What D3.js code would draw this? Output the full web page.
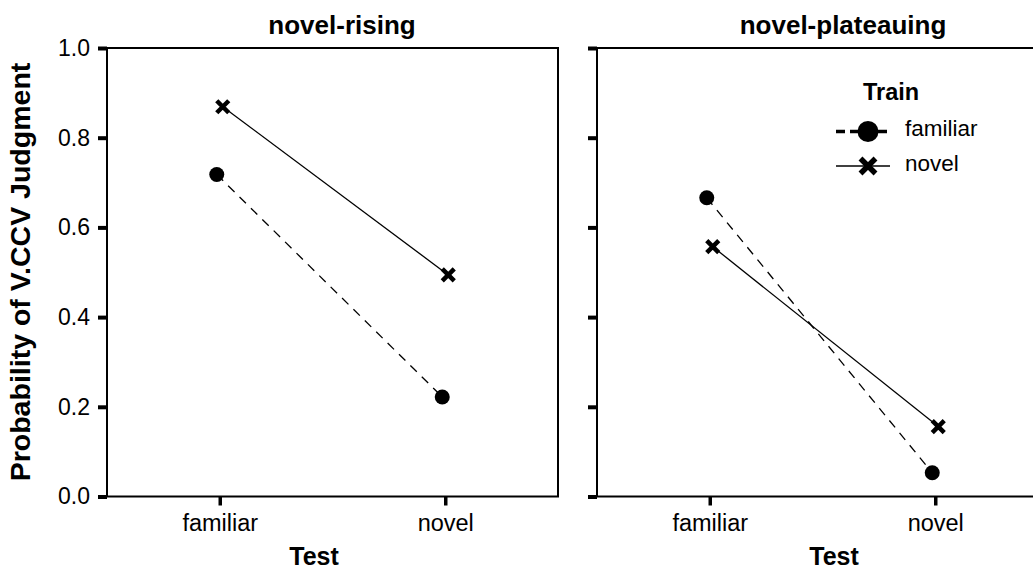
<!DOCTYPE html>
<html>
<head>
<meta charset="utf-8">
<script src="https://cdn.jsdelivr.net/npm/d3@7"></script>
<style>
  html, body { margin: 0; padding: 0; background: #fff; }
  svg { display: block; font-family: "Liberation Sans", Arial, Helvetica, sans-serif; }
</style>
</head>
<body>
<svg id="chart" width="1033" height="571"></svg>
<script>
// ---- data ----
const panels = ["novel-rising", "novel-plateauing"];
const testCategories = ["familiar", "novel"];
const trainGroups = ["familiar", "novel"];
const yTicks = [0.0, 0.2, 0.4, 0.6, 0.8, 1.0];
// values per panel: [familiar test, novel test]
const risingFamiliarTrain = [0.718, 0.222];
const risingNovelTrain = [0.869, 0.494];
const plateauFamiliarTrain = [0.666, 0.053];
const plateauNovelTrain = [0.557, 0.156];

const panelData = [
  { title: panels[0], series: [
    { train: trainGroups[0], values: risingFamiliarTrain },
    { train: trainGroups[1], values: risingNovelTrain } ] },
  { title: panels[1], series: [
    { train: trainGroups[0], values: plateauFamiliarTrain },
    { train: trainGroups[1], values: plateauNovelTrain } ] }
];

// ---- layout ----
const svg = d3.select("#chart");
const plotTop = 48, plotBottom = 496.5, panelW = 451;
const panelX = [107, 597];
const titleCx = [342, 843];
const testCx = [314, 834];
const dodge = { familiar: -3, novel: 3 };

const y = d3.scaleLinear().domain([0, 1]).range([plotBottom, plotTop]);

panelData.forEach((p, i) => {
  const x0 = panelX[i];
  const x = d3.scalePoint().domain(testCategories).range([x0, x0 + panelW]).padding(0.5);
  const g = svg.append("g");

  // frame
  g.append("rect").attr("x", x0).attr("y", plotTop).attr("width", panelW).attr("height", plotBottom - plotTop)
    .attr("fill", "none").attr("stroke", "#000").attr("stroke-width", 2);

  // y axis ticks
  const yAxis = d3.axisLeft(y).tickValues(yTicks).tickSize(9).tickPadding(8)
    .tickFormat(i === 0 ? d3.format(".1f") : () => "");
  const ya = g.append("g").attr("transform", `translate(${x0},0)`).call(yAxis);
  ya.select(".domain").remove();
  ya.selectAll(".tick line").attr("stroke-width", 4);
  ya.selectAll(".tick text").attr("font-size", 23).attr("fill", "#000")
    .attr("font-family", "Liberation Sans, Arial, sans-serif");

  // x axis ticks
  const xAxis = d3.axisBottom(x).tickSize(9).tickPadding(9);
  const xa = g.append("g").attr("transform", `translate(0,${plotBottom})`).call(xAxis);
  xa.select(".domain").remove();
  xa.selectAll(".tick line").attr("stroke-width", 3.5);
  xa.selectAll(".tick text").attr("font-size", 23.5).attr("fill", "#000")
    .attr("font-family", "Liberation Sans, Arial, sans-serif");

  // title
  g.append("text").attr("x", titleCx[i]).attr("y", 34).attr("text-anchor", "middle")
    .attr("font-size", 26).attr("font-weight", "bold").text(p.title);

  // x label
  g.append("text").attr("x", testCx[i]).attr("y", 565).attr("text-anchor", "middle")
    .attr("font-size", 25).attr("font-weight", "bold").text("Test");

  // series
  p.series.forEach(s => {
    const pts = testCategories.map((c, k) => [x(c) + dodge[s.train], y(s.values[k])]);
    g.append("path").attr("d", d3.line()(pts)).attr("fill", "none").attr("stroke", "#000")
      .attr("stroke-width", 1.3)
      .attr("stroke-dasharray", s.train === "familiar" ? "9,7" : null);
    pts.forEach(pt => {
      if (s.train === "familiar") {
        g.append("circle").attr("cx", pt[0]).attr("cy", pt[1]).attr("r", 7.5).attr("fill", "#000");
      } else {
        const h = 6;
        g.append("path")
          .attr("d", `M${pt[0]-h},${pt[1]-h}L${pt[0]+h},${pt[1]+h}M${pt[0]-h},${pt[1]+h}L${pt[0]+h},${pt[1]-h}`)
          .attr("stroke", "#000").attr("stroke-width", 4.5).attr("fill", "none");
      }
    });
  });
});

// y label
svg.append("text").attr("transform", "translate(30,272) rotate(-90)").attr("text-anchor", "middle")
  .attr("font-size", 28.5).attr("font-weight", "bold").text("Probability of V.CCV Judgment");

// legend
const lg = svg.append("g");
lg.append("text").attr("x", 863).attr("y", 100).attr("font-size", 23.5).attr("font-weight", "bold").text("Train");
const legY = [131.5, 166];
trainGroups.forEach((t, k) => {
  const yy = legY[k];
  lg.append("line").attr("x1", 836).attr("x2", 890).attr("y1", yy).attr("y2", yy)
    .attr("stroke", "#000").attr("stroke-width", t === "familiar" ? 3.5 : 1.3)
    .attr("stroke-dasharray", t === "familiar" ? "9,5" : null);
  if (t === "familiar") {
    lg.append("circle").attr("cx", 868).attr("cy", yy).attr("r", 10.5).attr("fill", "#000");
  } else {
    const h = 7.5;
    lg.append("path").attr("d", `M${868-h},${yy-h}L${868+h},${yy+h}M${868-h},${yy+h}L${868+h},${yy-h}`)
      .attr("stroke", "#000").attr("stroke-width", 5.5);
  }
  lg.append("text").attr("x", 905).attr("y", yy + 4.5).attr("font-size", 22.5).text(t);
});
</script>
</body>
</html>
